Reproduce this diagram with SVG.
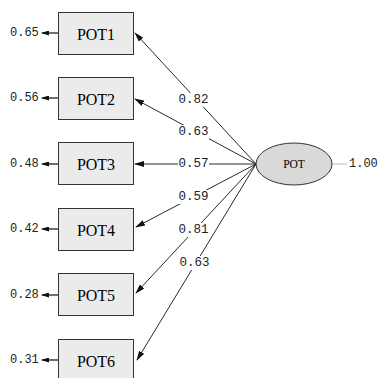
<svg xmlns="http://www.w3.org/2000/svg" width="379" height="378" viewBox="0 0 379 378">
<style>
.box{fill:#ebebeb;stroke:#333;stroke-width:1}
.lat{fill:#d9d9d9;stroke:#333;stroke-width:1}
.bt{font-family:"Liberation Serif",serif;font-size:16px;fill:#000;text-anchor:middle;dominant-baseline:central}
.lt{font-family:"Liberation Serif",serif;font-size:11.5px;fill:#000;text-anchor:middle;dominant-baseline:central}
.num{font-family:"Liberation Mono",monospace;font-size:12px;fill:#222;dominant-baseline:central}
.lab{font-family:"Liberation Mono",monospace;font-size:12.5px;fill:#222;text-anchor:middle;dominant-baseline:central}
.c{stroke:#111;stroke-width:0.9;fill:none;marker-end:url(#ah)}
.e{stroke:#111;stroke-width:1.2;fill:none;marker-end:url(#ah2)}
.bg{fill:#fff}
</style>
<defs>
<marker id="ah" markerWidth="10" markerHeight="6" refX="9" refY="3" orient="auto" markerUnits="userSpaceOnUse">
<path d="M0,0 L10,3 L0,6 Z" fill="#111"/>
</marker>
<marker id="ah2" markerWidth="8" markerHeight="5" refX="7" refY="2.5" orient="auto" markerUnits="userSpaceOnUse">
<path d="M0,0 L8,2.5 L0,5 Z" fill="#111"/>
</marker>
</defs>
<g id="connectors">
<line class="c" x1="256" y1="164" x2="135" y2="33"/>
<line class="c" x1="256" y1="164" x2="135" y2="99"/>
<line class="c" x1="256" y1="164" x2="135" y2="164"/>
<line class="c" x1="256" y1="164" x2="136" y2="227"/>
<line class="c" x1="256" y1="164" x2="136" y2="293"/>
<line class="c" x1="256" y1="164" x2="137" y2="360"/>
<line class="e" x1="58" y1="33" x2="42" y2="33"/>
<line class="e" x1="58" y1="98" x2="42" y2="98"/>
<line class="e" x1="58" y1="164" x2="42" y2="164"/>
<line class="e" x1="58" y1="229" x2="42" y2="229"/>
<line class="e" x1="58" y1="295" x2="42" y2="295"/>
<line class="e" x1="58" y1="360" x2="42" y2="360"/>
<line x1="332" y1="164" x2="347" y2="164" stroke="#bbb" stroke-width="1"/>
<rect class="bg" x="178" y="93" width="31" height="14"/>
<rect class="bg" x="178" y="125" width="31" height="14"/>
<rect class="bg" x="178" y="157" width="31" height="14"/>
<rect class="bg" x="178" y="190" width="31" height="14"/>
<rect class="bg" x="178" y="223" width="31" height="14"/>
<rect class="bg" x="179" y="256" width="31" height="14"/>
<text class="lab" x="193.5" y="100">0.82</text>
<text class="lab" x="193.5" y="132">0.63</text>
<text class="lab" x="193.5" y="164">0.57</text>
<text class="lab" x="193.5" y="197">0.59</text>
<text class="lab" x="193.5" y="230">0.81</text>
<text class="lab" x="194.5" y="263">0.63</text>
</g>
<g id="POT1"><rect class="box" x="58.5" y="12.5" width="75" height="42"/><text class="bt" x="96" y="34">POT1</text><text class="num" x="10" y="33">0.65</text></g>
<g id="POT2"><rect class="box" x="58.5" y="77.5" width="75" height="42"/><text class="bt" x="96" y="99">POT2</text><text class="num" x="10" y="98">0.56</text></g>
<g id="POT3"><rect class="box" x="58.5" y="142.5" width="75" height="42"/><text class="bt" x="96" y="164">POT3</text><text class="num" x="10" y="164">0.48</text></g>
<g id="POT4"><rect class="box" x="58.5" y="208.5" width="75" height="42"/><text class="bt" x="96" y="230">POT4</text><text class="num" x="10" y="229">0.42</text></g>
<g id="POT5"><rect class="box" x="58.5" y="273.5" width="75" height="42"/><text class="bt" x="96" y="295">POT5</text><text class="num" x="10" y="295">0.28</text></g>
<g id="POT6"><rect class="box" x="58.5" y="339.5" width="75" height="42"/><text class="bt" x="96" y="361">POT6</text><text class="num" x="10" y="360">0.31</text></g>
<g id="POT"><ellipse class="lat" cx="294" cy="164" rx="38" ry="21"/><text class="lt" x="294" y="164">POT</text><text class="num" x="349" y="164">1.00</text></g>
</svg>
